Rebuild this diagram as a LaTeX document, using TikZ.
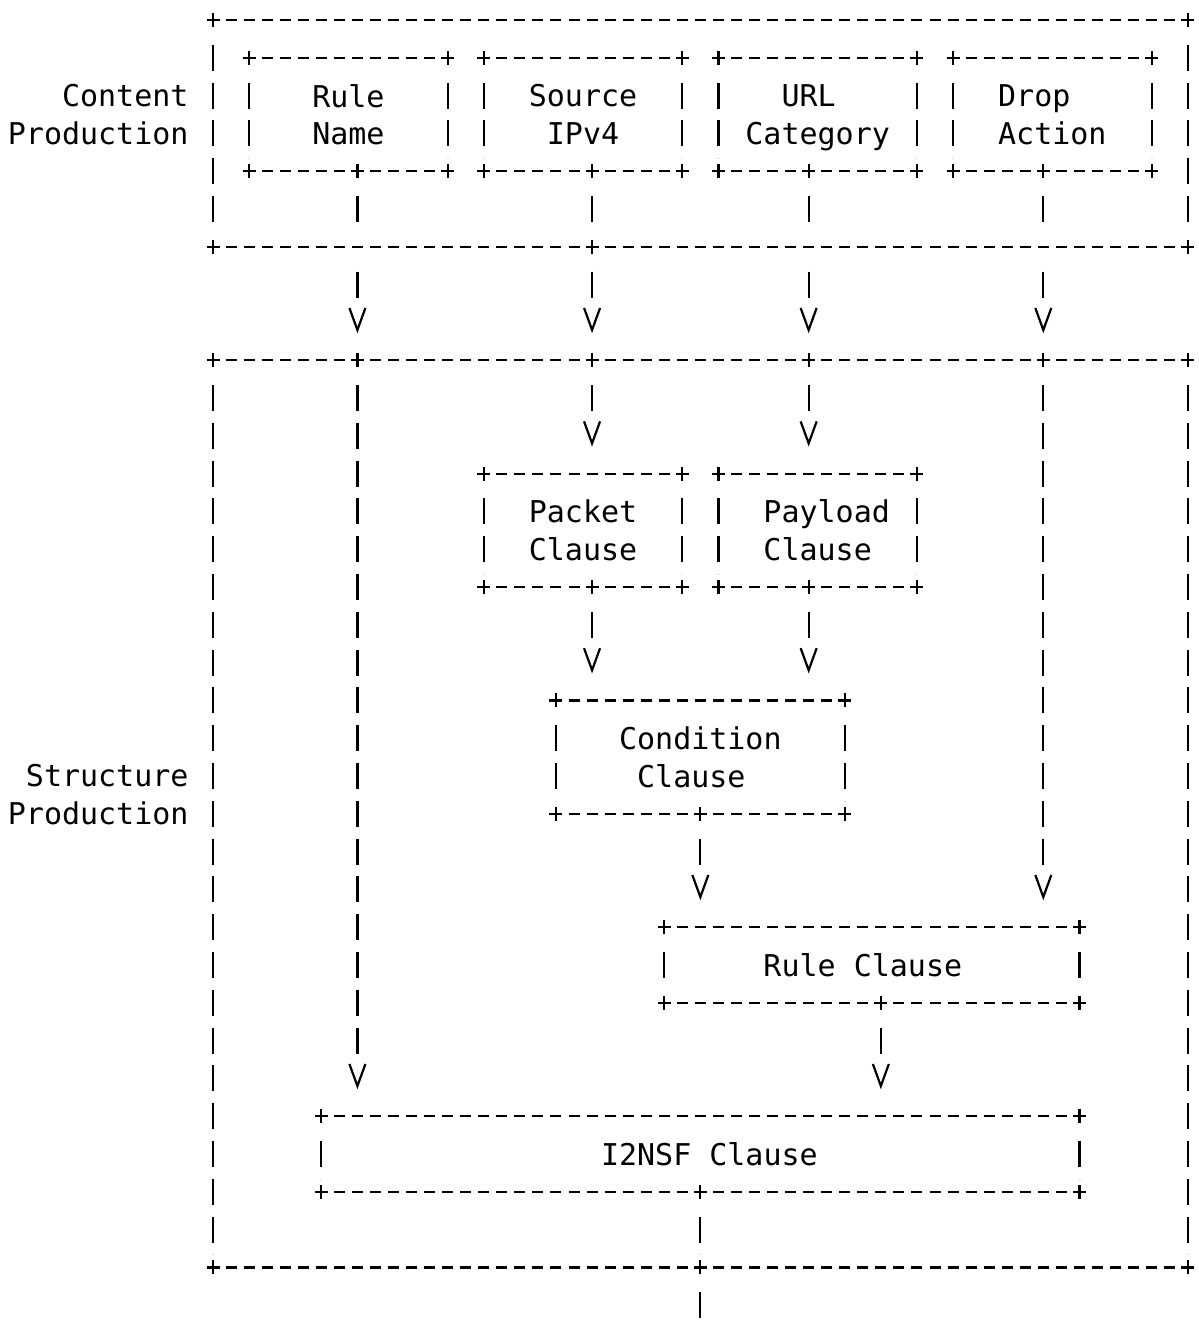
\documentclass[tikz,border=0pt]{standalone}
\usepackage{fontspec}
\setmonofont{DejaVu Sans Mono}
\usepackage{tikz}
\usetikzlibrary{arrows.meta,decorations.markings}

% small cross where dashed borders meet
\newcommand{\junction}[1]{\draw (#1) +(-6.5,0) -- +(6.5,0) +(0,-7) -- +(0,7);}

\begin{document}
\begin{tikzpicture}[x=1pt,y=1pt,line width=2.2pt,
    every node/.style={font=\ttfamily\fontsize{30}{37.8}\selectfont,inner sep=0pt,outer sep=0pt}]
    \tikzstyle{box}=[minimum height=113.4pt,minimum width=198.55pt,align=center,text depth=0pt]
    \tikzstyle{hdash}=[dash pattern=on 11pt off 7.05pt,dash phase=5.5pt]
    \tikzstyle{vdash}=[dash pattern=on 26pt off 11.8pt,dash phase=26pt,shorten <=13pt,shorten >=13pt]
    \tikzstyle{flow}=[vdash,shorten >=51pt,postaction={decorate},
        decoration={markings,mark=at position -27pt with {\arrow{Straight Barb[length=22pt,width=16pt]}}}]
    \useasboundingbox (0,0) rectangle (1199,-1320);

    % columns of the connectors
    \coordinate (k8) at (357.4,0);
    \coordinate (k21) at (592.05,0);
    \coordinate (k33) at (808.65,0);
    \coordinate (k37) at (880.85,0);
    \coordinate (k46) at (1043.3,0);

    \node[minimum width=974.7pt,minimum height=226.8pt] (content) at (700.35,-133.4) {};
    \node[minimum width=974.7pt,minimum height=907.2pt] (structure) at (700.35,-813.8) {};
    \node[anchor=east,align=right] (lblc) at (188.5,-114.5) {Content\\Production};
    \node[anchor=east,align=right] (lbls) at (188.5,-794.9) {Structure\\Production};

    \node[box] (rname) at (348.375,-114.5) {Rule\\Name};
    \node[box] (srcip) at (583.025,-114.5) {Source\\IPv4};
    \node[box] (urlcat) at (817.675,-114.5) {URL\phantom{x}\\Category};
    \node[box,align=left] (dropact) at (1052.325,-114.5) {Drop\\Action};
    \node[box] (pkt) at (583.025,-530.3) {Packet\\Clause};
    \node[box] (pay) at (817.675,-530.3) {\phantom{x}Payload\\Clause};
    \node[box,minimum width=288.8pt] (cond) at (700.35,-757.1) {Condition\\Clause\phantom{x}};
    \node[box,minimum width=415.15pt,minimum height=75.6pt] (rcl) at (871.825,-965) {Rule Clause\phantom{x}};
    \node[box,minimum width=758.1pt,minimum height=75.6pt] (i2nsf) at (700.35,-1154) {\phantom{x}I2NSF Clause};

    % borders
    \foreach \b in {content,structure,rname,srcip,urlcat,dropact,pkt,pay,cond,rcl,i2nsf} {
        \draw[hdash] (\b.north west) -- (\b.north east) (\b.south west) -- (\b.south east);
        \draw[vdash] (\b.north west) -- (\b.south west);
        \draw[vdash] (\b.north east) -- (\b.south east);
        \foreach \c in {north west,north east,south west,south east} {\junction{\b.\c}}
    }
    \foreach \p in {rname.south -| k8,srcip.south -| k21,urlcat.south -| k33,dropact.south -| k46,
        content.south -| k21,structure.north -| k8,structure.north -| k21,structure.north -| k33,
        structure.north -| k46,pkt.south -| k21,pay.south -| k33,cond.south,rcl.south -| k37,
        i2nsf.south,structure.south} {\junction{\p}}

    % content production -> structure production
    \foreach \n/\k in {rname/k8,srcip/k21,urlcat/k33,dropact/k46} {
        \draw[vdash] (\n.south -| \k) -- (content.south -| \k);
        \draw[flow] (content.south -| \k) -- (structure.north -| \k);
    }
    \draw[flow] (structure.north -| k8) -- (i2nsf.north -| k8);
    \draw[flow] (structure.north -| k21) -- (pkt.north -| k21);
    \draw[flow] (structure.north -| k33) -- (pay.north -| k33);
    \draw[flow] (structure.north -| k46) -- (rcl.north -| k46);
    \draw[flow] (pkt.south -| k21) -- (cond.north -| k21);
    \draw[flow] (pay.south -| k33) -- (cond.north -| k33);
    \draw[flow] (cond.south) -- (rcl.north -| cond.south);
    \draw[flow] (rcl.south -| k37) -- (i2nsf.north -| k37);
    \draw[vdash] (i2nsf.south) -- (structure.south);
    \coordinate (out) at (700.35,-1318.2);
    \draw[vdash,shorten >=0pt] (structure.south) -- (out);
\end{tikzpicture}
\end{document}
